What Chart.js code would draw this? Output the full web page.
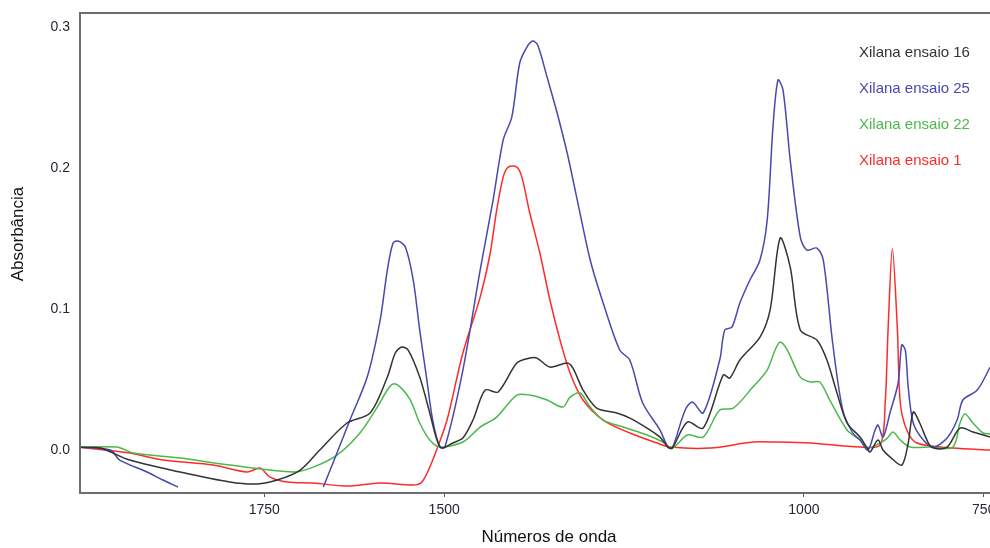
<!DOCTYPE html>
<html>
<head>
<meta charset="utf-8">
<script src="https://cdn.jsdelivr.net/npm/chart.js@4"></script>
<style>
  html, body { margin: 0; padding: 0; background: #fff; }
  #wrap { width: 990px; height: 548px; }
</style>
</head>
<body>
<div id="wrap"><canvas id="chart"></canvas></div>
<script>
// Spectra (wavenumber, absorbance)
const seriesNames = ['Xilana ensaio 16', 'Xilana ensaio 25', 'Xilana ensaio 22', 'Xilana ensaio 1'];
const seriesColors = ['#333333', '#4848b0', '#4cb84c', '#ff2a2a'];

const wn16 = [2006, 1978, 1937, 1867, 1798, 1760, 1732, 1700, 1673, 1635, 1603, 1579, 1568, 1559, 1550, 1534, 1520, 1510, 1503,
  1488, 1474, 1460, 1443, 1425, 1399, 1381, 1371, 1353, 1329, 1321, 1307, 1288, 1260, 1242, 1218, 1200, 1189, 1183,
  1162, 1140, 1112, 1103, 1089, 1061, 1047, 1033, 1019, 1005, 982, 968, 954, 940, 922, 912, 908, 897, 890, 880, 864,
  855, 848, 839, 827, 820, 801, 783, 765, 741];
const abs16 = [0.002, 0.0014, -0.0071, -0.0156, -0.0227, -0.0241, -0.0213, -0.0142, 0, 0.0192, 0.0263, 0.0518, 0.0689, 0.0731, 0.071, 0.0518, 0.0263, 0.0071, 0.0014,
  0.005, 0.0085, 0.0213, 0.0426, 0.0412, 0.0618, 0.0653, 0.0653, 0.0589, 0.0618, 0.0582, 0.0426, 0.0298, 0.0263, 0.0227, 0.0156, 0.0092, 0.0021, 0.0014,
  0.0199, 0.0156, 0.0533, 0.0511, 0.0639, 0.0802, 0.0994, 0.1505, 0.1299, 0.0852, 0.0781, 0.0639, 0.0405, 0.0192, 0.0092, 0.0014, -0.0014, 0.0071, 0, -0.005, -0.0107,
  0.005, 0.027, 0.0192, 0.005, 0.0014, 0.0021, 0.0156, 0.0128, 0.0092];

const wn25 = [2006, 1964, 1951, 1913, 1891, 1870, 1760, 1668, 1649, 1631, 1607, 1589, 1579, 1571, 1564, 1554, 1543, 1534, 1524, 1516, 1506, 1499,
  1474, 1450, 1432, 1418, 1406, 1395, 1385, 1377, 1370, 1357, 1343, 1329, 1315, 1297, 1279, 1256, 1242, 1224, 1200, 1189, 1183,
  1165, 1155, 1140, 1117, 1110, 1100, 1089, 1075, 1061, 1051, 1043, 1036, 1029, 1019, 1005, 996, 982, 973, 960, 946, 932, 922,
  911, 901, 897, 890, 880, 869, 864, 859, 855, 848, 834, 820, 801, 787, 779, 759, 741];
const abs25 = [0.002, 0, -0.0071, -0.0156, -0.0213, -0.0263, null, -0.0263, -0.0021, 0.0213, 0.0518, 0.0923, 0.1278, 0.147, 0.1484, 0.1441, 0.1207, 0.0852, 0.0497, 0.0213, 0.0021, 0.0021,
  0.0568, 0.1278, 0.1775, 0.2201, 0.2364, 0.2748, 0.2861, 0.2904, 0.2876, 0.2648, 0.2393, 0.2109, 0.1775, 0.1349, 0.1044, 0.071, 0.0639, 0.0334, 0.0142, 0.0021, 0.0014,
  0.0284, 0.0341, 0.0263, 0.0639, 0.0852, 0.0873, 0.1044, 0.1207, 0.1349, 0.1633, 0.2293, 0.2627, 0.2556, 0.2059, 0.1512, 0.142, 0.1434, 0.1349, 0.076, 0.0284, 0.0121, 0.0071,
  0, 0.0142, 0.0178, 0.0092, 0.027, 0.0476, 0.0746, 0.071, 0.0447, 0.0192, 0.0071, 0.0021, 0.0085, 0.0213, 0.0355, 0.0426, 0.0589];

const wn22 = [2006, 1955, 1932, 1867, 1798, 1710, 1682, 1649, 1617, 1593, 1579, 1571, 1561, 1547, 1534, 1520, 1506,
  1474, 1450, 1427, 1399, 1381, 1357, 1335, 1325, 1311, 1297, 1279, 1251, 1218, 1196, 1183,
  1162, 1140, 1117, 1098, 1071, 1051, 1040, 1033, 1023, 1005, 991, 978, 964, 940, 922,
  911, 894, 884, 876, 866, 852, 825, 793, 783, 776, 765, 751, 741];
const abs22 = [0.002, 0.0021, -0.0021, -0.0057, -0.0107, -0.0156, -0.0121, -0.0036, 0.0121, 0.0305, 0.0426, 0.0469, 0.0447, 0.0355, 0.0192, 0.0071, 0.0021,
  0.0057, 0.0163, 0.0234, 0.039, 0.039, 0.0355, 0.0305, 0.0376, 0.0405, 0.0305, 0.0213, 0.0163, 0.0107, 0.0057, 0.0014,
  0.0107, 0.0092, 0.0284, 0.0298, 0.0447, 0.0568, 0.071, 0.0767, 0.071, 0.0518, 0.0483, 0.0483, 0.0355, 0.0142, 0.0071,
  0.0014, 0.005, 0.0085, 0.0128, 0.0071, 0.0021, 0.0021, 0.0021, 0.0192, 0.0256, 0.0192, 0.0121, 0.0114];

const wn1 = [2006, 1937, 1891, 1821, 1774, 1756, 1742, 1718, 1682, 1635, 1589, 1543, 1531, 1520, 1509,
  1496, 1474, 1450, 1436, 1427, 1418, 1411, 1399, 1392, 1381, 1367, 1353, 1339, 1325, 1307, 1279, 1242, 1204, 1186,
  1130, 1071, 1037, 991, 922, 894, 887, 883, 877, 870, 866, 857, 843, 793, 741];
const abs1 = [0.002, -0.0021, -0.0071, -0.0107, -0.0156, -0.0128, -0.0192, -0.0227, -0.0234, -0.0256, -0.0234, -0.0249, -0.0227, -0.0121, 0.0021,
  0.0213, 0.0689, 0.1086, 0.1399, 0.1704, 0.1938, 0.2009, 0.2009, 0.1938, 0.1683, 0.1399, 0.1065, 0.0781, 0.0547, 0.0355, 0.0213, 0.0121, 0.005, 0.0021,
  0.0014, 0.0057, 0.0057, 0.005, 0.0021, 0.0036, 0.0334, 0.0852, 0.143, 0.0852, 0.0334, 0.0142, 0.005, 0.0014, 0];

const xTicks = [1750, 1500, 1000, 750];
const yTicks = [0, 0.1, 0.2, 0.3];

function pts(wn, ab) {
  return wn.map((w, i) => ({ x: w, y: ab[i] }));
}

const allWn = [wn16, wn25, wn22, wn1];
const allAbs = [abs16, abs25, abs22, abs1];
const tickFont = { family: '"Liberation Sans", Arial, sans-serif', size: 14 };

// Frame, axis titles and the text-only legend
const decorPlugin = {
  id: 'decor',
  afterDraw(chart) {
    const c = chart.ctx;
    const a = chart.chartArea;
    c.save();
    c.strokeStyle = '#6e6e6e';
    c.lineWidth = 2;
    c.beginPath();
    c.moveTo(a.right + 2, a.top);
    c.lineTo(a.left, a.top);
    c.lineTo(a.left, a.bottom);
    c.lineTo(a.right + 2, a.bottom);
    c.stroke();

    c.fillStyle = '#111';
    c.font = '17px "Liberation Sans", Arial, sans-serif';
    c.textAlign = 'center';
    c.textBaseline = 'middle';
    c.fillText('Números de onda', 549, 537);
    c.translate(18, 234);
    c.rotate(-Math.PI / 2);
    c.fillText('Absorbância', 0, 0);
    c.restore();

    c.save();
    c.font = '15px "Liberation Sans", Arial, sans-serif';
    c.textAlign = 'left';
    c.textBaseline = 'middle';
    seriesNames.forEach((n, i) => {
      c.fillStyle = seriesColors[i];
      c.fillText(n, 859, 53 + i * 36);
    });
    c.restore();
  }
};

const ctx = document.getElementById('chart').getContext('2d');
const chart = new Chart(ctx, {
  type: 'line',
  data: {
    datasets: seriesNames.map((n, i) => ({
      label: n,
      data: pts(allWn[i], allAbs[i]),
      borderColor: seriesColors[i],
      borderWidth: 1.5,
      pointRadius: 0,
      tension: 0.3,
      spanGaps: false
    }))
  },
  options: {
    responsive: true,
    maintainAspectRatio: false,
    animation: false,
    layout: { padding: { top: 13, right: 0, left: 0, bottom: 0 } },
    plugins: {
      legend: { display: false },
      tooltip: { enabled: false }
    },
    scales: {
      x: {
        type: 'linear',
        reverse: true,
        min: 741.3,
        max: 2006.2,
        afterBuildTicks: (s) => { s.ticks = xTicks.map(v => ({ value: v })); },
        afterFit: (s) => { s.height = 55; s.paddingLeft = 0; s.paddingRight = 0; },
        grid: { display: true, drawOnChartArea: false, tickLength: 4, color: '#555' },
        border: { display: false },
        ticks: {
          padding: 5,
          color: '#262636',
          font: tickFont,
          maxRotation: 0,
          autoSkip: false,
          callback: (v) => String(v)
        }
      },
      y: {
        min: -0.0305,
        max: 0.3103,
        afterBuildTicks: (s) => { s.ticks = yTicks.map(v => ({ value: v })); },
        afterFit: (s) => { s.width = 80; s.paddingTop = 0; s.paddingBottom = 0; },
        grid: { display: false, drawTicks: false },
        border: { display: false },
        ticks: {
          padding: 10,
          color: '#262636',
          font: tickFont,
          callback: (v) => v.toFixed(1)
        }
      }
    }
  },
  plugins: [decorPlugin]
});
</script>
</body>
</html>
